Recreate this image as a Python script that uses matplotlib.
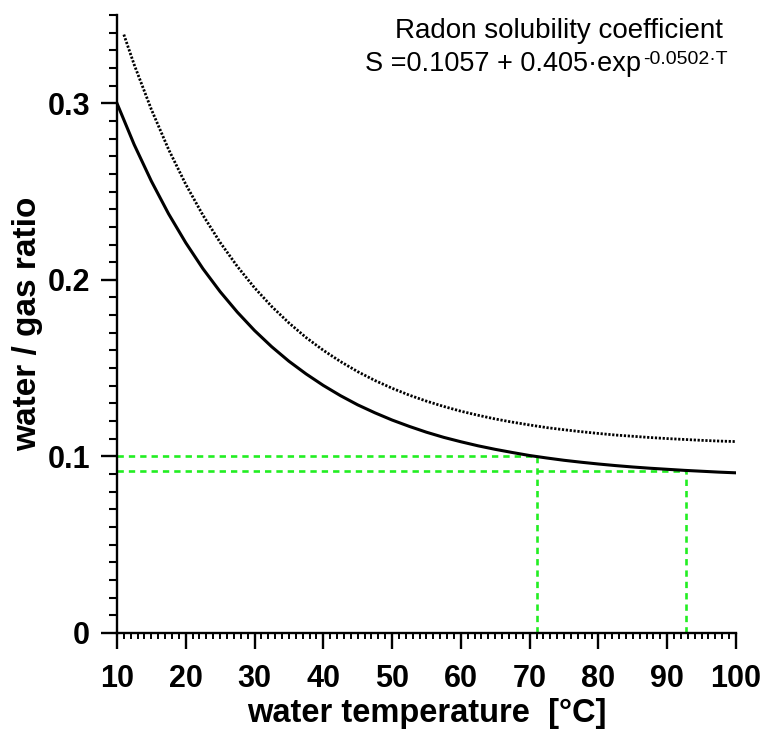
import matplotlib
matplotlib.use("Agg")
import matplotlib.pyplot as plt
from matplotlib.ticker import MultipleLocator

plt.rcParams['font.family'] = ['Liberation Sans', 'DejaVu Sans']

# solid curve (measured)
temp = [10, 12.5, 15, 17.5, 20, 22.5, 25, 27.5, 30, 32.5, 35, 37.5, 40, 42.5, 45,
        47.5, 50, 52.5, 55, 57.5, 60, 62.5, 65, 67.5, 70, 72.5, 75, 77.5, 80, 82.5,
        85, 87.5, 90, 92.5, 95, 97.5, 100]
ratio = [0.300, 0.2766, 0.2559, 0.2374, 0.2210, 0.2063, 0.1933, 0.1817, 0.1713,
         0.1621, 0.1539, 0.1467, 0.1402, 0.1344, 0.1292, 0.1247, 0.1206, 0.1170,
         0.1137, 0.1108, 0.1083, 0.1060, 0.1040, 0.1022, 0.1005, 0.0991, 0.0978,
         0.0967, 0.0957, 0.0948, 0.0940, 0.0933, 0.0927, 0.0921, 0.0916, 0.0911,
         0.0907]

# dotted curve (solubility coefficient)
temp_s = [11] + temp[1:]
solub = [0.3389, 0.3219, 0.2965, 0.2739, 0.2541, 0.2366, 0.2212, 0.2076, 0.1955,
         0.1849, 0.1756, 0.1673, 0.1601, 0.1537, 0.1480, 0.1430, 0.1386, 0.1347,
         0.1313, 0.1283, 0.1256, 0.1233, 0.1212, 0.1194, 0.1178, 0.1163, 0.1151,
         0.1140, 0.1130, 0.1121, 0.1114, 0.1107, 0.1101, 0.1096, 0.1091, 0.1087,
         0.1084]

# green read-off lines
read_t = [71.1, 92.8]
read_r = [0.100, 0.092]

fig = plt.figure(figsize=(7.61, 7.30), dpi=100)
ax = fig.add_axes([0.1537, 0.1329, 0.8134, 0.8466])

green = '#22ee22'
for t, r in zip(read_t, read_r):
    ax.plot([10, t], [r, r], color=green, lw=1.9, linestyle=(0, (2.4, 1.9)), zorder=1)
    ax.plot([t, t], [0, r], color=green, lw=1.9, linestyle=(0, (2.4, 1.9)), zorder=1)

ax.plot(temp, ratio, color='black', lw=2.2, zorder=3)
ax.plot(temp_s, solub, color='black', lw=2.0, linestyle=(0, (0.8, 0.6)), zorder=3)

ax.set_xlim(10, 100)
ax.set_ylim(0, 0.35)
ax.spines['top'].set_visible(False)
ax.spines['right'].set_visible(False)
ax.spines['left'].set_linewidth(1.7)
ax.spines['bottom'].set_linewidth(1.7)

ax.xaxis.set_major_locator(MultipleLocator(10))
ax.xaxis.set_minor_locator(MultipleLocator(1))
ax.yaxis.set_major_locator(MultipleLocator(0.1))
ax.yaxis.set_minor_locator(MultipleLocator(0.01))
ax.tick_params(which='major', length=11.5, width=1.7, direction='out', labelsize=22)
ax.tick_params(axis='x', which='major', pad=11)
ax.tick_params(axis='y', which='major', pad=8)
ax.tick_params(axis='y', which='minor', length=5.8, width=1.5, direction='out')
ax.tick_params(axis='x', which='minor', length=4.5, width=1.4, direction='out')
ax.set_yticks([0, 0.1, 0.2, 0.3])
ax.set_yticklabels(['0', '0.1', '0.2', '0.3'])
for lab in ax.get_xticklabels() + ax.get_yticklabels():
    lab.set_fontweight('bold')

ax.set_xlabel('water temperature  [°C]', fontsize=23.5, fontweight='bold', labelpad=3)
ax.set_ylabel('water / gas ratio', fontsize=24, fontweight='bold', labelpad=3)

ax.text(0.979, 0.962, 'Radon solubility coefficient', transform=ax.transAxes,
        ha='right', va='baseline', fontsize=20)
main = ax.text(0.847, 0.910, 'S =0.1057 + 0.405·exp', transform=ax.transAxes,
               ha='right', va='baseline', fontsize=19.5)
ax.annotate('-0.0502·T', xy=(1, 0), xycoords=main, xytext=(1, 9),
            textcoords='offset points', ha='left', va='baseline', fontsize=14)

fig.savefig('out.png', dpi=100)
